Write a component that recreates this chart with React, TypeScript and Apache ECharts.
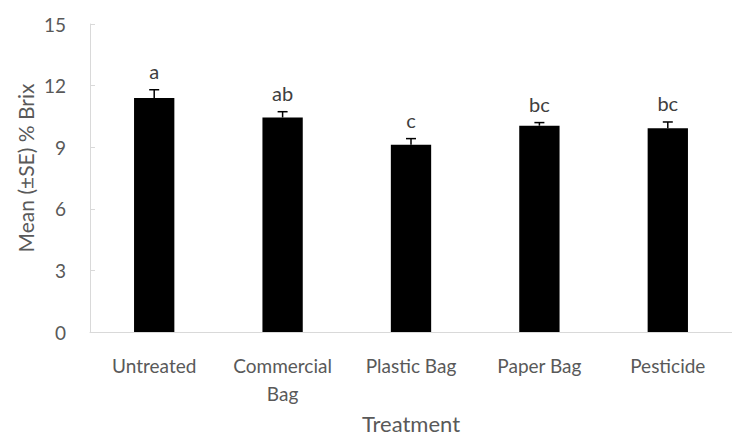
import React, { useEffect, useRef } from "react";
import * as echarts from "echarts";

const categories = ["Untreated", "Commercial\nBag", "Plastic Bag", "Paper Bag", "Pesticide"];
const means = [11.4, 10.45, 9.12, 10.05, 9.93];
const stdErrors = [0.4, 0.28, 0.3, 0.15, 0.3];
const letters = ["a", "ab", "c", "bc", "bc"];
const yTicks = { min: 0, max: 15, interval: 3 };
const yTitle = "Mean (±SE) % Brix";
const xTitle = "Treatment";

const FONT = "Lato, 'Open Sans', sans-serif";
const GRAY = "#595959";

export default function App() {
  const ref = useRef<HTMLDivElement>(null);
  useEffect(() => {
    if (!ref.current) return;
    const chart = echarts.init(ref.current, undefined, { renderer: "svg" });
    const errData = means.map((m, i) => [i, m, m + stdErrors[i]]);
    chart.setOption({
      animation: false,
      backgroundColor: "#ffffff",
      grid: { left: 90, top: 24, height: 313.5, width: 653 },
      graphic: [
        {
          type: "text",
          x: 25,
          y: 168,
          rotation: Math.PI / 2,
          style: {
            text: yTitle,
            fill: GRAY,
            fontSize: 21,
            fontFamily: FONT,
            align: "center",
            verticalAlign: "middle",
          },
        },
      ],
      xAxis: {
        type: "category",
        data: categories,
        name: xTitle,
        nameLocation: "middle",
        nameGap: 78,
        nameTextStyle: { color: GRAY, fontSize: 22, fontFamily: FONT },
        axisLine: { lineStyle: { color: "#d9d9d9", width: 1 } },
        axisTick: { show: false },
        axisLabel: { color: GRAY, fontSize: 19, fontFamily: FONT, margin: 19, lineHeight: 28, interval: 0 },
      },
      yAxis: {
        type: "value",
        min: yTicks.min,
        max: yTicks.max,
        interval: yTicks.interval,
        axisLine: { show: true, lineStyle: { color: "#d9d9d9", width: 1 } },
        axisTick: { show: true, inside: true, length: 5, lineStyle: { color: "#d9d9d9" } },
        splitLine: { show: false },
        axisLabel: { color: GRAY, fontSize: 19, fontFamily: FONT, margin: 24 },
      },
      series: [
        {
          type: "bar",
          data: means,
          barWidth: "31.4%",
          itemStyle: { color: "#000000" },
        },
        {
          type: "custom",
          data: errData,
          z: 5,
          renderItem: (params: any, api: any) => {
            const x = api.value(0);
            const lo = api.coord([x, api.value(1)]);
            const hi = api.coord([x, api.value(2)]);
            const half = 5;
            return {
              type: "group",
              children: [
                { type: "line", shape: { x1: lo[0], y1: lo[1], x2: hi[0], y2: hi[1] }, style: { stroke: "#000", lineWidth: 1.5 } },
                { type: "line", shape: { x1: hi[0] - half, y1: hi[1], x2: hi[0] + half, y2: hi[1] }, style: { stroke: "#000", lineWidth: 1.5 } },
                {
                  type: "text",
                  x: hi[0],
                  y: hi[1] - 19,
                  style: {
                    text: letters[params.dataIndex],
                    fill: "#404040",
                    fontSize: 20,
                    fontFamily: FONT,
                    align: "center",
                    verticalAlign: "middle",
                  },
                },
              ],
            };
          },
        },
      ],
    });
    return () => chart.dispose();
  }, []);
  return <div ref={ref} style={{ width: 732, height: 439, position: "absolute", left: 0, top: 0 }} />;
}
